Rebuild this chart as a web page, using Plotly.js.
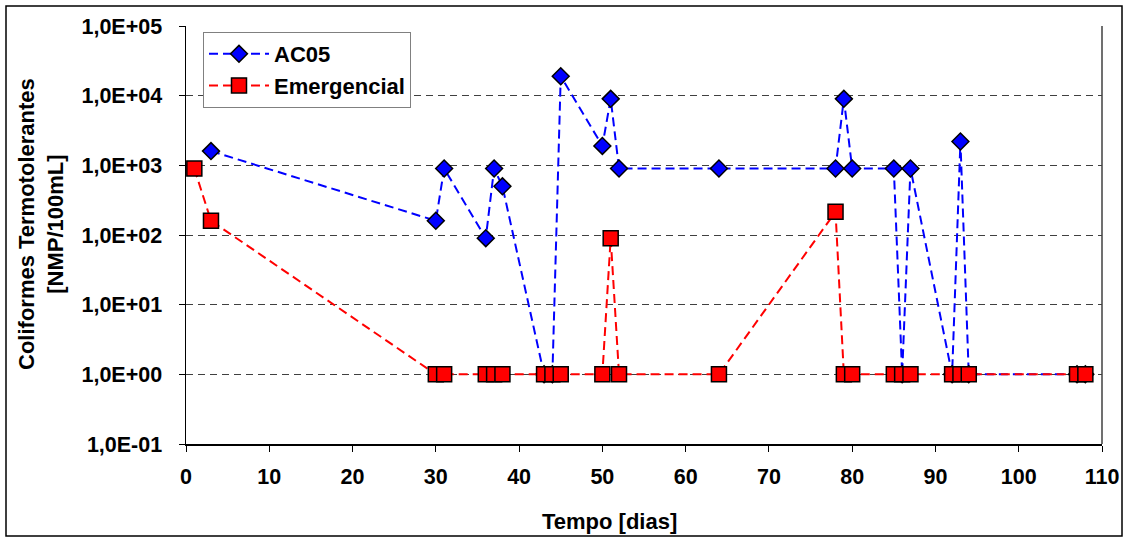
<!DOCTYPE html>
<html>
<head>
<meta charset="utf-8">
<script src="https://cdn.plot.ly/plotly-3.0.1.min.js"></script>
<style>
html,body{margin:0;padding:0;background:#fff;}
#chart{width:1129px;height:539px;}
</style>
</head>
<body>
<div id="chart"></div>
<script>
// Data
const ac05Days = [3, 30, 31, 36, 37, 38, 43, 44, 45, 50, 51, 52, 64, 78, 79, 80, 85, 86, 87, 92, 93, 94, 107, 108];
const ac05Values = [1600, 160, 900, 90, 900, 500, 1, 1, 19000, 1900, 9000, 900, 900, 900, 9000, 900, 900, 1, 900, 1, 2200, 1, 1, 1];

const emergDays = [1, 3, 30, 31, 36, 37, 38, 43, 44, 45, 50, 51, 52, 64, 78, 79, 80, 85, 86, 87, 92, 93, 94, 107, 108];
const emergValues = [900, 160, 1, 1, 1, 1, 1, 1, 1, 1, 1, 90, 1, 1, 215, 1, 1, 1, 1, 1, 1, 1, 1, 1, 1];

const yTickVals = [0.1, 1, 10, 100, 1000, 10000, 100000];
const yTickText = ["1,0E-01", "1,0E+00", "1,0E+01", "1,0E+02", "1,0E+03", "1,0E+04", "1,0E+05"];
const xTickVals = [0, 10, 20, 30, 40, 50, 60, 70, 80, 90, 100, 110];

const FONT = "Liberation Sans, Arial, Helvetica, sans-serif";

const traces = [
  {
    x: ac05Days, y: ac05Values, name: "AC05", type: "scatter", mode: "lines+markers",
    line: {color: "#0000FF", width: 2, dash: "9px,5px"},
    marker: {symbol: "diamond", size: 13, color: "#0000FF", line: {color: "#000000", width: 1.5}}
  },
  {
    x: emergDays, y: emergValues, name: "Emergencial", type: "scatter", mode: "lines+markers",
    line: {color: "#FF0000", width: 2, dash: "9px,5px"},
    marker: {symbol: "square", size: 15, color: "#FF0000", line: {color: "#000000", width: 1.5}}
  }
];

const L = 186, R = 27, T = 26, B = 95;
const W = 1129, H = 539;
const pw = W - L - R, ph = H - T - B;
function px2x(p){ return (p - L) / pw; }
function px2y(p){ return (H - B - p) / ph; }

const layout = {
  width: W, height: H,
  margin: {l: L, r: R, t: T, b: B, pad: 0},
  paper_bgcolor: "#ffffff", plot_bgcolor: "#ffffff",
  font: {family: FONT, size: 22, color: "#000000", weight: "bold"},
  showlegend: true,
  legend: {
    x: px2x(203), y: px2y(32), xanchor: "left", yanchor: "top",
    bgcolor: "#ffffff", bordercolor: "#808080", borderwidth: 1,
    font: {family: FONT, size: 22, color: "#000000", weight: "bold"},
    itemwidth: 60
  },
  xaxis: {
    range: [0, 110], tickmode: "array", tickvals: xTickVals,
    showgrid: false, zeroline: false,
    showline: true, linecolor: "#000000", linewidth: 1.5,
    ticks: "outside", ticklen: 6, tickcolor: "#000000", tickwidth: 1,
    tickfont: {family: FONT, size: 21.5, color: "#000000", weight: "bold"},
    ticklabelstandoff: 7
  },
  yaxis: {
    type: "log", range: [-1, 5], tickmode: "array", tickvals: yTickVals, ticktext: yTickText,
    showgrid: true, gridcolor: "#404040", gridwidth: 1, griddash: "7px,5px",
    zeroline: false,
    showline: true, linecolor: "#000000", linewidth: 1.5,
    ticks: "outside", ticklen: 6, tickcolor: "#000000", tickwidth: 1,
    tickfont: {family: FONT, size: 21.5, color: "#000000", weight: "bold"},
    ticklabelstandoff: 12
  },
  shapes: [
    {type: "line", xref: "paper", yref: "paper", x0: 1, x1: 1, y0: 0, y1: 1,
     line: {color: "#404040", width: 1.5}},
    {type: "rect", xref: "paper", yref: "paper",
     x0: px2x(6), x1: px2x(1122), y0: px2y(536), y1: px2y(6),
     line: {color: "#000000", width: 1.5}, fillcolor: "rgba(0,0,0,0)", layer: "below"}
  ],
  annotations: [
    {text: "Tempo [dias]", xref: "paper", yref: "paper", x: px2x(609), y: px2y(521),
     xanchor: "center", yanchor: "middle", showarrow: false,
     font: {family: FONT, size: 22, color: "#000000", weight: "bold"}},
    {text: "Coliformes Termotolerantes<br>[NMP/100mL]", xref: "paper", yref: "paper",
     x: px2x(41), y: px2y(224), xanchor: "center", yanchor: "middle", showarrow: false, textangle: -90,
     font: {family: FONT, size: 22, color: "#000000", weight: "bold"}}
  ]
};

Plotly.newPlot("chart", traces, layout, {staticPlot: true, displayModeBar: false});
</script>
</body>
</html>
